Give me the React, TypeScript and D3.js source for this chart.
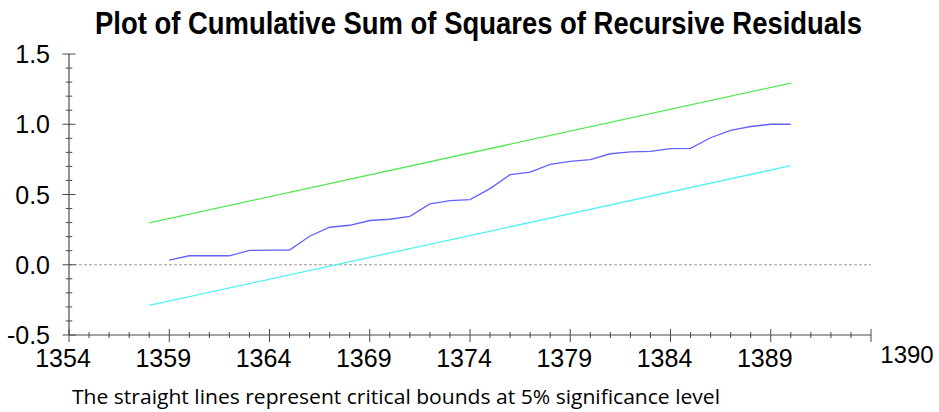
import React from "react";
import * as d3 from "d3";

const years = [
  1359, 1360, 1361, 1362, 1363, 1364, 1365, 1366, 1367, 1368, 1369, 1370, 1371,
  1372, 1373, 1374, 1375, 1376, 1377, 1378, 1379, 1380, 1381, 1382, 1383, 1384,
  1385, 1386, 1387, 1388, 1389, 1390,
];
const cusumsq = [
  0.033, 0.064, 0.064, 0.064, 0.102, 0.104, 0.104, 0.203, 0.267, 0.281, 0.315,
  0.324, 0.345, 0.433, 0.457, 0.464, 0.542, 0.641, 0.66, 0.714, 0.736, 0.748,
  0.79, 0.803, 0.807, 0.826, 0.828, 0.904, 0.956, 0.984, 1.0, 1.0,
];
const boundYears = [1358, 1390];
const upperBound = [0.298, 1.293];
const lowerBound = [-0.289, 0.705];

const xTickLabels = [1354, 1359, 1364, 1369, 1374, 1379, 1384, 1389];
const yTickLabels = [-0.5, 0.0, 0.5, 1.0, 1.5];
const endLabel = "1390";
const title = "Plot of Cumulative Sum of Squares of Recursive Residuals";
const footnote =
  "The straight lines represent critical bounds at 5% significance level";

const W = 939;
const H = 412;

export default function App() {
  const x = d3.scaleLinear().domain([1354, 1394]).range([69, 871]);
  const y = d3.scaleLinear().domain([-0.5, 1.5]).range([335, 54]);
  const line = d3
    .line<[number, number]>()
    .x((d) => x(d[0]))
    .y((d) => y(d[1]));

  const stat = years.map((yr, i) => [yr, cusumsq[i]] as [number, number]);
  const up = boundYears.map((yr, i) => [yr, upperBound[i]] as [number, number]);
  const lo = boundYears.map((yr, i) => [yr, lowerBound[i]] as [number, number]);

  const xTicks = d3.range(1354, 1395, 1);
  const yTicks = d3.range(-5, 16, 1).map((v) => v / 10);
  const axisColor = "#4a4a4a";
  const y0 = y(-0.5);
  const x0 = x(1354);

  return (
    <svg
      width={W}
      height={H}
      style={{ position: "absolute", left: 0, top: 0, background: "#fff" }}
    >
      <g transform="translate(478.5,34) scale(1,1.07)">
        <text
          x={0}
          y={0}
          textAnchor="middle"
          fontFamily="'Liberation Sans', Arial, sans-serif"
          fontWeight="bold"
          fontSize={30}
          textLength={767}
          lengthAdjust="spacingAndGlyphs"
          fill="#000"
        >
          {title}
        </text>
      </g>

      {/* zero reference line */}
      <line
        x1={x0}
        x2={x(1394)}
        y1={y(0)}
        y2={y(0)}
        stroke="#999"
        strokeWidth={1}
        strokeDasharray="3,2"
      />

      {/* y axis */}
      <line x1={x0} x2={x0} y1={y(1.5)} y2={y0} stroke={axisColor} strokeWidth={1.2} />
      {yTicks.map((v) => {
        const major = Math.abs(Math.round(v * 10) % 5) === 0;
        return (
          <line
            key={"yt" + v}
            x1={major ? x0 - 6.5 : x0 - 3.3}
            x2={major ? x0 + 6.5 : x0 + 3.3}
            y1={y(v)}
            y2={y(v)}
            stroke={axisColor}
            strokeWidth={1}
          />
        );
      })}
      {yTickLabels.map((v) => (
        <text
          key={"yl" + v}
          x={50}
          y={y(v) + 9}
          textAnchor="end"
          fontFamily="'Liberation Sans', Arial, sans-serif"
          fontSize={25}
          fill="#000"
        >
          {v.toFixed(1)}
        </text>
      ))}

      {/* x axis */}
      <line x1={x0} x2={x(1394)} y1={y0} y2={y0} stroke={axisColor} strokeWidth={1.2} />
      {xTicks.map((t) => {
        const major = (t - 1354) % 5 === 0;
        return (
          <line
            key={"xt" + t}
            x1={x(t)}
            x2={x(t)}
            y1={major ? y0 - 6 : y0 - 3}
            y2={major ? y0 + 7 : y0 + 3}
            stroke={axisColor}
            strokeWidth={1}
          />
        );
      })}
      {xTickLabels.map((t) => (
        <text
          key={"xl" + t}
          x={x(t) - 6}
          y={367}
          textAnchor="middle"
          fontFamily="'Liberation Sans', Arial, sans-serif"
          fontSize={25}
          fill="#000"
        >
          {t}
        </text>
      ))}
      <text
        x={907}
        y={363}
        textAnchor="middle"
        fontFamily="'Liberation Sans', Arial, sans-serif"
        fontSize={24}
        fill="#000"
      >
        {endLabel}
      </text>

      {/* bounds and statistic */}
      <path d={line(up) || ""} fill="none" stroke="#55e855" strokeWidth={1.3} />
      <path d={line(lo) || ""} fill="none" stroke="#55f2f2" strokeWidth={1.3} />
      <path d={line(stat) || ""} fill="none" stroke="#6262ff" strokeWidth={1.3} />

      <text
        x={72}
        y={404}
        fontFamily="'Open Sans', 'Liberation Sans', sans-serif"
        fontSize={20}
        textLength={648}
        lengthAdjust="spacingAndGlyphs"
        fill="#000"
      >
        {footnote}
      </text>
    </svg>
  );
}
